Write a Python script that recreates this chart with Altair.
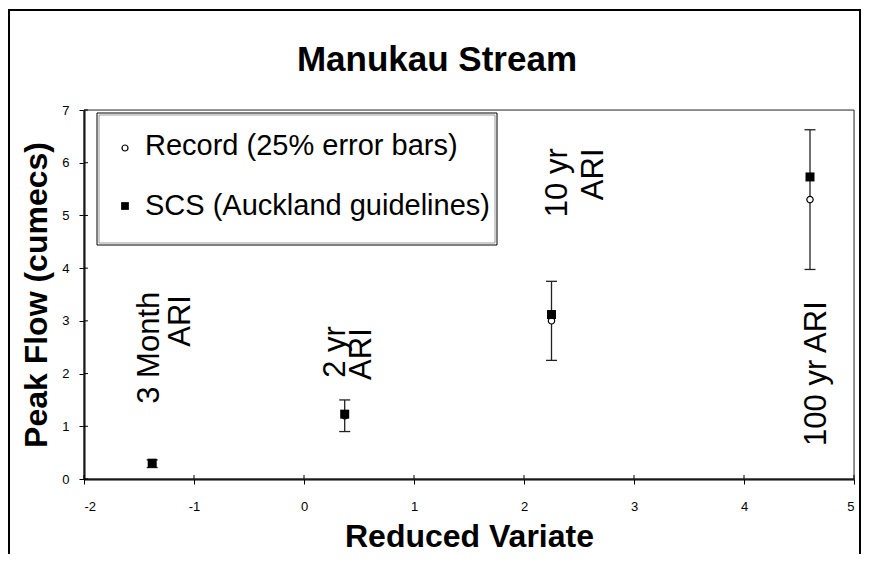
import altair as alt
import pandas as pd

# ---- data ----
events = ["3 Month", "2 yr", "10 yr", "100 yr"]
reduced_variate = [-1.38, 0.37, 2.25, 4.60]
record_flow = [0.29, 1.20, 3.00, 5.30]
scs_flow = [0.30, 1.23, 3.12, 5.73]
error_fraction = 0.25  # "25% error bars"

ann_text = ["3 Month", "ARI", "2 yr", "ARI", "10 yr", "ARI", "100 yr ARI"]
ann_x = [-1.40, -1.12, 0.29, 0.53, 2.31, 2.64, 4.66]
ann_y = [2.49, 3.00, 2.41, 2.37, 5.62, 5.78, 2.00]

x_ticks = [-2, -1, 0, 1, 2, 3, 4, 5]
y_ticks = [0, 1, 2, 3, 4, 5, 6, 7]

FONT = "Liberation Sans"
W, H = 770, 369

df = pd.DataFrame({
    "event": events,
    "rv": reduced_variate,
    "record": record_flow,
    "scs": scs_flow,
})
df["lo"] = df["record"] * (1 - error_fraction)
df["hi"] = df["record"] * (1 + error_fraction)

ann = pd.DataFrame({"text": ann_text, "x": ann_x, "y": ann_y})
one = pd.DataFrame({"k": [0]})

xscale = alt.Scale(domain=[-2, 5], nice=False, zero=False)
yscale = alt.Scale(domain=[0, 7], nice=False, zero=False)

LBL = "'' + datum.value"
xaxis = alt.Axis(values=x_ticks, title="Reduced Variate", titleFontSize=32,
                 titleFontWeight="bold", titleFont=FONT, titleColor="black",
                 titleBaseline="alphabetic", titleY=67,
                 labelFontSize=13, labelFont=FONT, labelColor="black", labelExpr=LBL,
                 labelPadding=16, tickSize=5, tickColor="black", tickWidth=1,
                 domainColor="black", domainWidth=2, grid=False)
yaxis = alt.Axis(values=y_ticks, title="Peak Flow (cumecs)", titleFontSize=32,
                 titleFontWeight="bold", titleFont=FONT, titleColor="black",
                 titleAngle=270, titleBaseline="alphabetic", titleX=-38, titleY=H / 2,
                 labelFontSize=13, labelFont=FONT, labelColor="black", labelExpr=LBL,
                 labelPadding=10, tickSize=5, tickColor="black", tickWidth=1,
                 domainColor="black", domainWidth=2, grid=False)

base = alt.Chart(df)

# outer chart border
border = alt.Chart(one).mark_rect(fill=None, stroke="black", strokeWidth=2).encode(
    x=alt.value(-75), x2=alt.value(776), y=alt.value(-100), y2=alt.value(480))

# plot-area frame
frame = alt.Chart(one).mark_rect(fill=None, stroke="#333", strokeWidth=1).encode(
    x=alt.value(0), x2=alt.value(W), y=alt.value(0), y2=alt.value(H))

# legend frame
leg_frame = alt.Chart(one).mark_rect(fill="white", stroke="black", strokeWidth=1).encode(
    x=alt.value(13), x2=alt.value(413), y=alt.value(3), y2=alt.value(135))
leg_frame2 = alt.Chart(one).mark_rect(fill=None, stroke="#9a9a9a", strokeWidth=1).encode(
    x=alt.value(15), x2=alt.value(411), y=alt.value(5), y2=alt.value(133))

# inward halves of the crossing ticks
xt = pd.DataFrame({"v": x_ticks})
yt = pd.DataFrame({"v": y_ticks})
xin = alt.Chart(xt).mark_rule(color="black", strokeWidth=1).encode(
    x=alt.X("v:Q", scale=xscale, axis=xaxis), y=alt.value(H - 4), y2=alt.value(H))
yin = alt.Chart(yt).mark_rule(color="black", strokeWidth=1).encode(
    y=alt.Y("v:Q", scale=yscale, axis=yaxis), x=alt.value(0), x2=alt.value(4))

X = alt.X("rv:Q", scale=xscale, axis=xaxis)

err = base.mark_rule(color="#222", strokeWidth=1.3).encode(
    x=X, y=alt.Y("lo:Q", scale=yscale, axis=yaxis), y2="hi:Q")
cap_lo = base.mark_point(shape="M-1,0L1,0", size=121, color="#222", strokeWidth=1.3,
                         opacity=1).encode(x=X, y=alt.Y("lo:Q", scale=yscale))
cap_hi = base.mark_point(shape="M-1,0L1,0", size=121, color="#222", strokeWidth=1.3,
                         opacity=1).encode(x=X, y=alt.Y("hi:Q", scale=yscale))

rec = base.mark_point(shape="circle", size=40, filled=False, fill="white",
                      stroke="black", strokeWidth=1.2, opacity=1).encode(
    x=X, y=alt.Y("record:Q", scale=yscale))
scs = base.mark_point(shape="square", size=81, filled=True, color="black",
                      opacity=1).encode(x=X, y=alt.Y("scs:Q", scale=yscale))

labels = alt.Chart(ann).mark_text(angle=270, align="center", baseline="middle",
                                  font=FONT, fontSize=31, color="black").encode(
    x=alt.X("x:Q", scale=xscale), y=alt.Y("y:Q", scale=yscale), text="text:N")

# legend contents
leg_c = alt.Chart(one).mark_point(shape="circle", size=36, filled=False, fill="white",
                                  stroke="black", strokeWidth=1.2, opacity=1).encode(
    x=alt.value(41), y=alt.value(38))
leg_s = alt.Chart(one).mark_point(shape="square", size=60, filled=True, color="black",
                                  opacity=1).encode(x=alt.value(41), y=alt.value(96))
leg_t1 = alt.Chart(one).mark_text(text="Record (25% error bars)", align="left",
                                  baseline="alphabetic", font=FONT, fontSize=29,
                                  color="black").encode(x=alt.value(61), y=alt.value(45))
leg_t2 = alt.Chart(one).mark_text(text="SCS (Auckland guidelines)", align="left",
                                  baseline="alphabetic", font=FONT, fontSize=29,
                                  color="black").encode(x=alt.value(61), y=alt.value(105))

title = alt.Chart(one).mark_text(text="Manukau Stream", align="center", baseline="middle",
                                 font=FONT, fontSize=35, fontWeight="bold",
                                 color="black").encode(x=alt.value(353), y=alt.value(-50))

chart = alt.layer(
    border, frame, leg_frame, leg_frame2, xin, yin, err, cap_lo, cap_hi, rec, scs, labels,
    leg_c, leg_s, leg_t1, leg_t2, title
).properties(
    width=W, height=H,
    autosize=alt.AutoSizeParams(type="none"),
    padding={"left": 76, "top": 102, "right": 7, "bottom": 75},
).configure_view(stroke=None).configure(background="white")

chart.save("out.html", embed_options={"renderer": "svg", "actions": False})
